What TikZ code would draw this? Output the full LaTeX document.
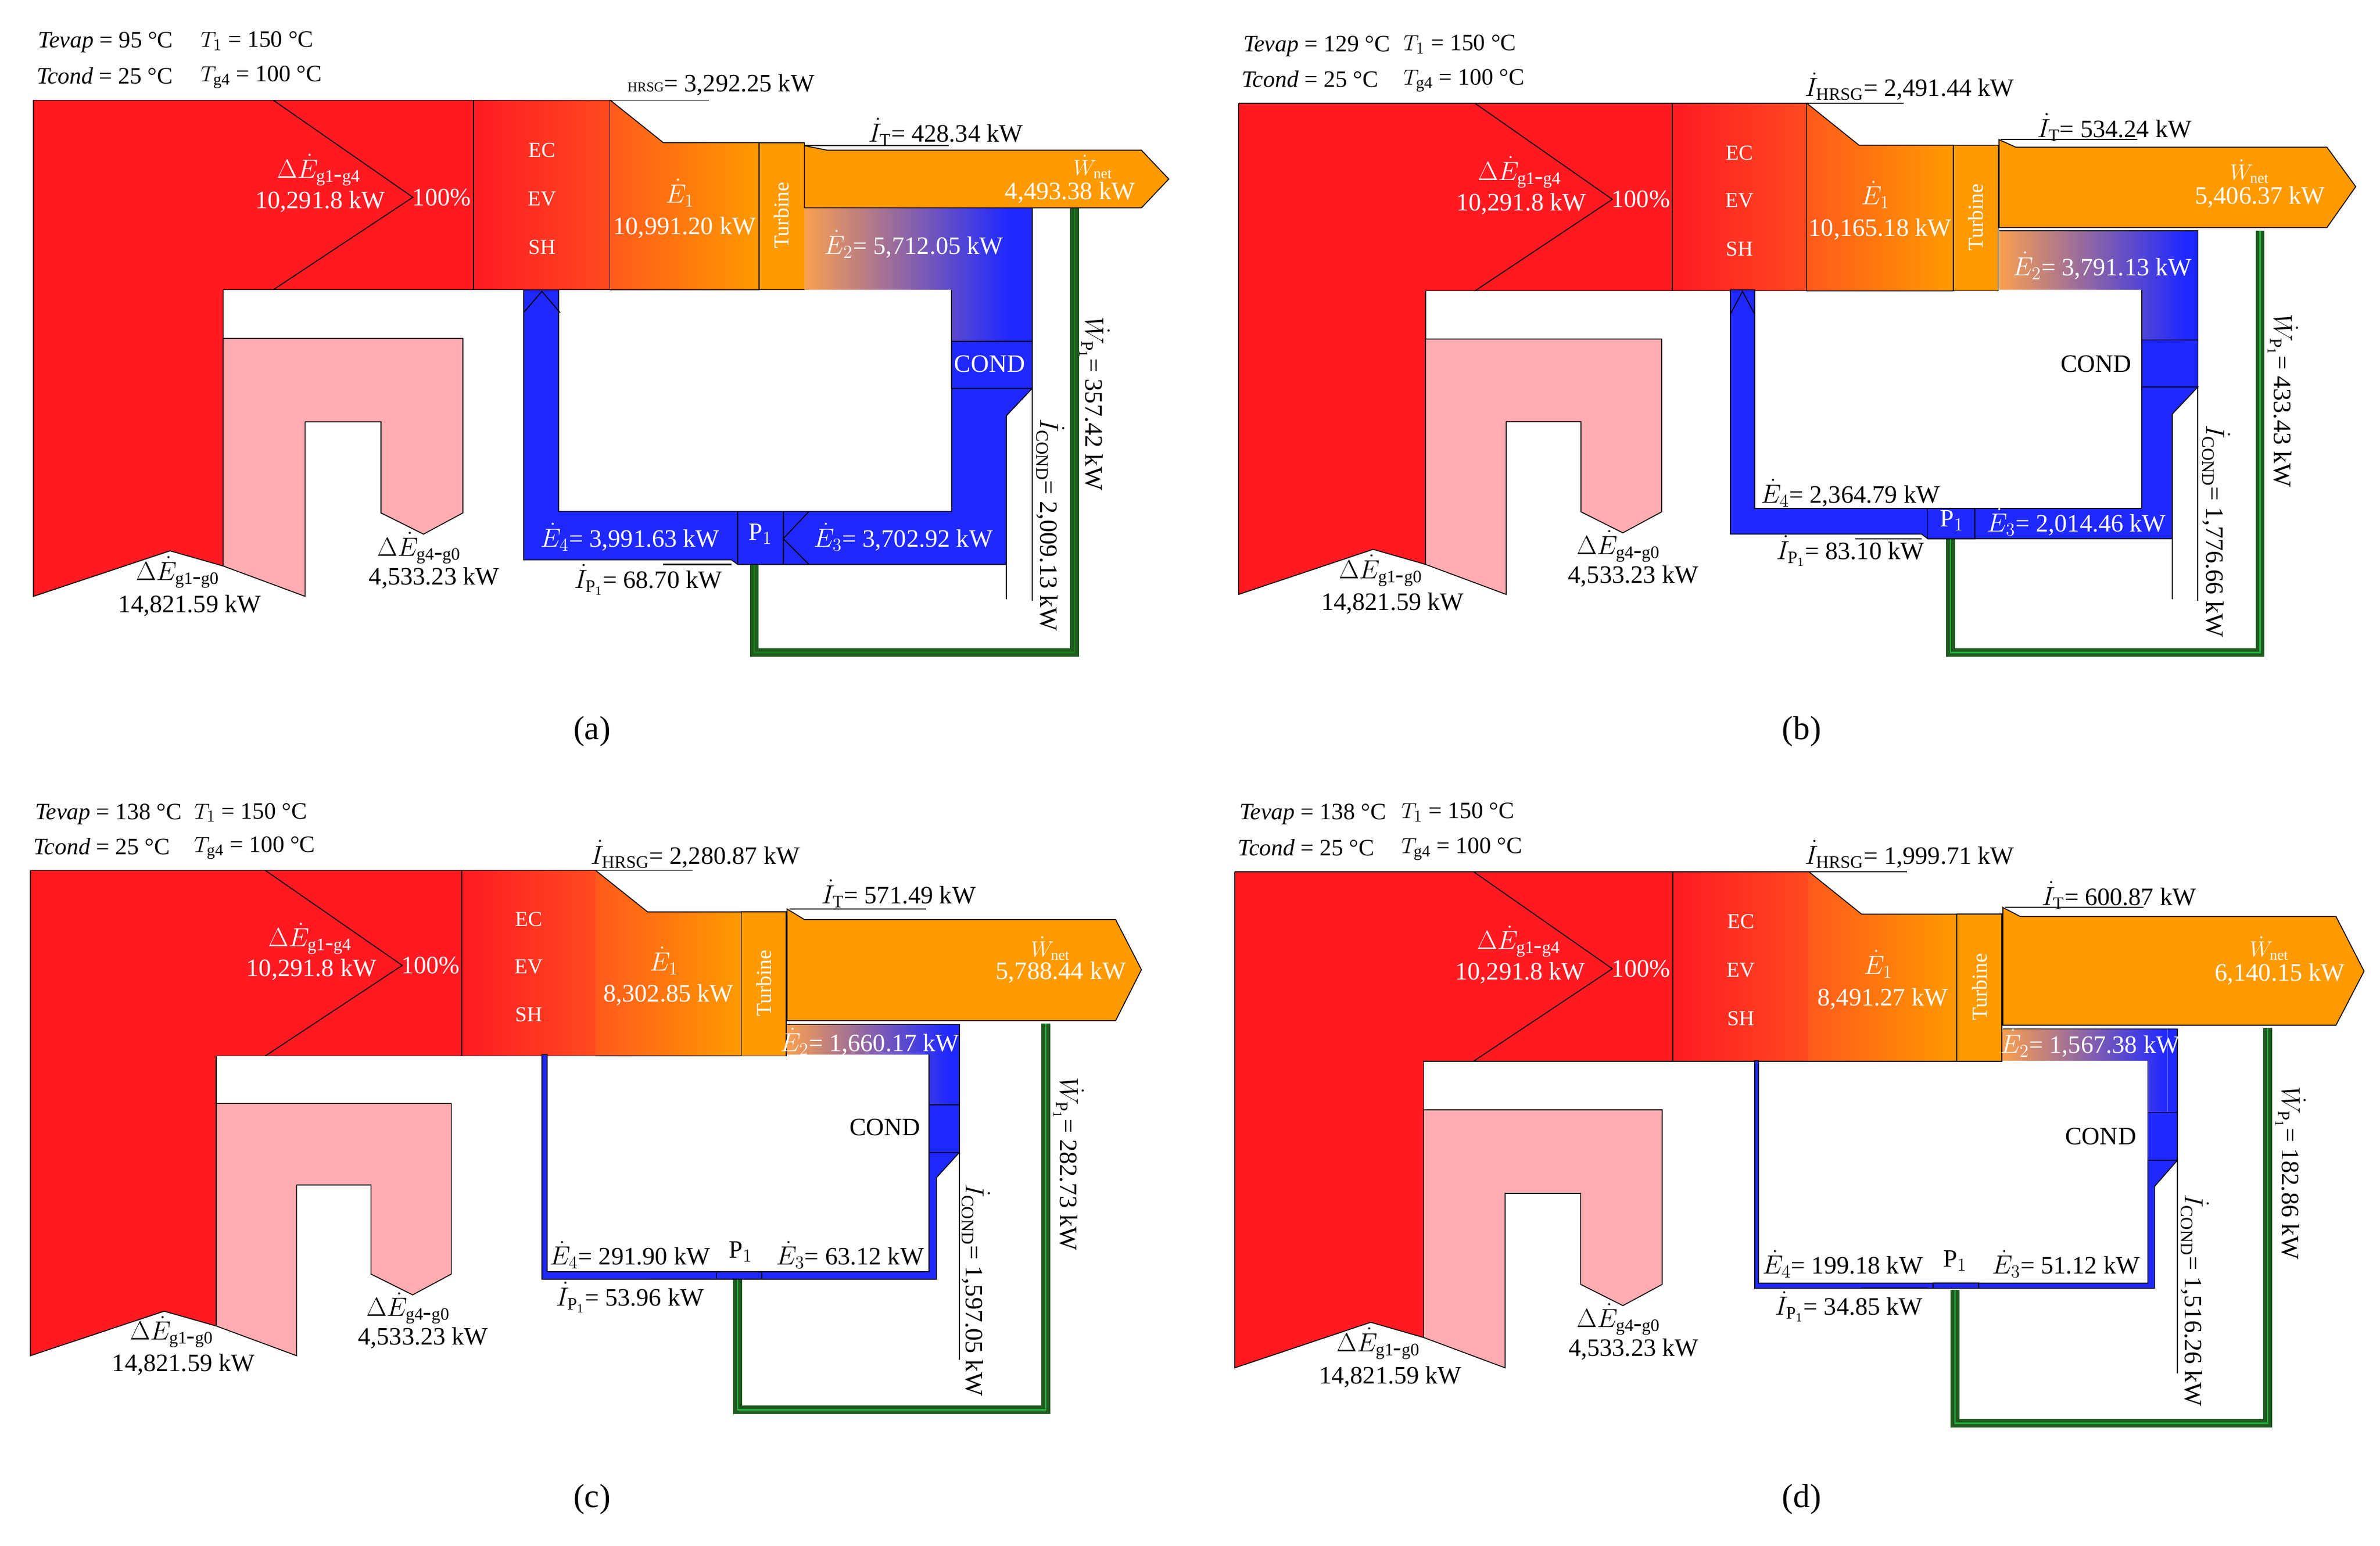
\documentclass[tikz,border=0pt]{standalone}
\usepackage{fontspec}
\setmainfont{Liberation Serif}
\usetikzlibrary{shapes.geometric}
\definecolor{sred}{HTML}{FF1A22}
\definecolor{ecr}{HTML}{FF4A20}
\definecolor{e1l}{HTML}{FF5A1C}
\definecolor{org}{HTML}{FF9A00}
\definecolor{bl}{HTML}{1E28FF}
\definecolor{pnk}{HTML}{FFADB1}
\definecolor{e2l}{HTML}{F9A050}
\definecolor{gdark}{HTML}{1F5A1F}
\definecolor{gbright}{HTML}{22B040}
\tikzset{
 v/.style={font=\fontsize{16.5}{18}\selectfont,inner sep=0pt},
 w/.style={v,text=white},
 sm/.style={font=\fontsize{14}{16}\selectfont,inner sep=0pt},
 tt/.style={font=\fontsize{15.5}{17}\selectfont,inner sep=0pt},
 captxt/.style={font=\fontsize{22}{24}\selectfont,inner sep=0pt},
 ol/.style={draw=black,line width=0.6pt},
 gl/.style={draw=gdark,line width=2.4pt,double=#1,double distance=0.9pt},
 ln/.style={draw=black,line width=0.8pt},
}
\newcommand{\mypanel}[7]{%
\begin{scope}[shift={(#2,#3)},xscale=#4,yscale=#5]
 \fill[sred] (0,0)--(290,0)--(290,125)--(125,125)--(125,307)--(90,297)--(0,327)--cycle;
 \draw[ol] (0,0)--(0,327)--(90,297)--(125,307);
 \draw[ol] (125,307)--(125,125)--(290,125);
 \draw[ol] (158,0)--(250,64)--(158,125);
 \shade[left color=sred,right color=ecr] (290,0) rectangle (380,125);
 \draw[ol] (290,0) rectangle (380,125);
 \shade[left color=e1l,right color=org] (380,0)--(415,28)--(478,28)--(478,125)--(380,125)--cycle;
 \draw[ol] (380,0)--(415,28)--(478,28)--(478,125)--(380,125);
 \draw[ol,fill=org] (478,28) rectangle (508,125);
 \draw[ol,fill=pnk] (125,157)--(283,157)--(283,272)--(257,286)--(229,272)--(229,212)--(179,212)--(179,327)--(125,307)--cycle;
 \draw[ol] (0,0)--(445,0);
 \node[w] (#1dg14) at (188,46) {$\Delta\dot{E}_{\mathrm{g1\mbox{-}g4}}$};
 \node[w] (#1dg14v) at (189,67) {10,291.8 kW};
 \node[w] (#1pc) at (269,64) {100\%};
 \node[w,sm] (#1ec) at (335,33) {EC};
 \node[w,sm] (#1ev) at (335,65) {EV};
 \node[w,sm] (#1sh) at (335,97) {SH};
 \node[w] (#1e1) at (426,61) {$\dot{E}_1$};
 \node[w] (#1e1v) at (429,84) {#7};
 \node[w,sm,rotate=90] (#1tu) at (493,76) {Turbine};
 \node[v] (#1dg10) at (95,311) {$\Delta\dot{E}_{\mathrm{g1\mbox{-}g0}}$};
 \node[v] (#1dg10v) at (103,333) {14,821.59 kW};
 \node[v] (#1dg40) at (254,295) {$\Delta\dot{E}_{\mathrm{g4\mbox{-}g0}}$};
 \node[v] (#1dg40v) at (264,315) {4,533.23 kW};
 \node[tt,anchor=west] (#1tev) at (3,-38) {\textit{Tevap} = #6 °C};
 \node[tt,anchor=west] (#1t1) at (110,-39) {$T_1$ = 150 °C};
 \node[tt,anchor=west] (#1tco) at (2,-16) {\textit{Tcond} = 25 °C};
 \node[tt,anchor=west] (#1tg4) at (110,-15) {$T_{\mathrm{g4}}$ = 100 °C};
\end{scope}}
\begin{document}
\begin{tikzpicture}[x=1pt,y=-1pt]
\useasboundingbox[fill=white] (0,0) rectangle (1568,1018.6);
% ---------------- panel a
\mypanel{a}{22}{66}{1}{1}{95}{10,991.20 kW}
\draw[gl=gdark!80!green] (497,372)--(497,430)--(708,430)--(708,137);
\draw[ol,fill=org] (530,96)--(545,99)--(752,99)--(770,118)--(752,137)--(530,137)--cycle;
\shade[left color=e2l,right color=bl] (530,137)--(665,137)--(665,225)--(627,225)--(627,191)--(530,191)--cycle;
\fill[bl] (665,137) rectangle (680,225);
\draw[ol] (530,137)--(680,137)--(680,225)--(627,225)--(627,191);
\draw[ol,fill=bl] (627,225) rectangle (680,256);
\draw[ol,fill=bl] (345,191)--(368,191)--(368,337)--(627,337)--(627,256)--(680,256)--(663,274)--(663,372)--(486,372)--(482,369)--(345,369)--cycle;
\draw[ol] (486,337) rectangle (516,372);
\draw[ol] (533,337)--(516,355)--(533,372);
\draw[ol] (345,206)--(357,192)--(369,206);
\draw[ln] (680,256)--(680,396);
\draw[ln] (663,274)--(663,395);
\draw[ln] (437,372)--(482,372);
\draw[ln] (530,96)--(625,96);
\node[w] (aE2) at (602,161) {$\dot{E}_2$= 5,712.05 kW};
\node[w] (aCO) at (652,240) {COND};
\node[w] (aE4) at (415,354) {$\dot{E}_4$= 3,991.63 kW};
\node[w] (aP1) at (501,352) {P$_1$};
\node[w] (aE3) at (595,354) {$\dot{E}_3$= 3,702.92 kW};
\node[v] (aIP) at (427,382) {$\dot{I}_{\mathrm{P_1}}$= 68.70 kW};
\node[v,rotate=-90] (aWP) at (721,266) {$\dot{W}_{\mathrm{P_1}}$= 357.42 kW};
\node[v,rotate=-90] (aIC) at (692,346) {$\dot{I}_{\mathrm{COND}}$= 2,009.13 kW};
\node[w,sm] (aWn) at (720,110) {$\dot{W}_{\mathrm{net}}$};
\node[w] (aWv) at (705,127) {4,493.38 kW};
\node[v] (aIT) at (623,87) {$\dot{I}_{\mathrm{T}}$= 428.34 kW};
\node[v] (aIH) at (475,56) {{\fontsize{9}{10}\selectfont HRSG}= 3,292.25 kW};
\node[captxt] (capa) at (390,482) {(a)};
% ---------------- panel b
\mypanel{b}{816}{68}{0.985}{0.99}{129}{10,165.18 kW}
\draw[gl=gbright] (1285,355)--(1285,430)--(1489,430)--(1489,152);
\draw[ol,fill=org] (1317,92)--(1328,97)--(1533,97)--(1552,123)--(1533,150)--(1317,150)--cycle;
\shade[left color=e2l,right color=bl] (1317,152)--(1440,152)--(1440,224)--(1411,224)--(1411,191)--(1317,191)--cycle;
\fill[bl] (1440,152) rectangle (1448,224);
\draw[ol] (1317,152)--(1448,152)--(1448,224)--(1411,224)--(1411,191);
\draw[ol,fill=bl] (1411,224) rectangle (1448,255);
\draw[ol,fill=bl] (1140,191)--(1156,191)--(1156,335)--(1411,335)--(1411,255)--(1448,255)--(1431,273)--(1431,355)--(1270,355)--(1266,352)--(1140,352)--cycle;
\draw[ol] (1270,335) rectangle (1301,355);
\draw[ol] (1140,207)--(1148,192)--(1156,207);
\draw[ln] (1448,255)--(1448,396);
\draw[ln] (1431,273)--(1431,395);
\draw[ln] (1222,355)--(1266,355);
\draw[ln] (1318,92)--(1408,92);
\node[w] (bE2) at (1385,175) {$\dot{E}_2$= 3,791.13 kW};
\node[v] (bCO) at (1381,240) {COND};
\node[v] (bE4) at (1219,325) {$\dot{E}_4$= 2,364.79 kW};
\node[w] (bP1) at (1286,343) {P$_1$};
\node[w] (bE3) at (1368,344) {$\dot{E}_3$= 2,014.46 kW};
\node[v] (bIP) at (1219,363) {$\dot{I}_{\mathrm{P_1}}$= 83.10 kW};
\node[v,rotate=-90] (bWP) at (1504,264) {$\dot{W}_{\mathrm{P_1}}$= 433.43 kW};
\node[v,rotate=-90] (bIC) at (1460,350) {$\dot{I}_{\mathrm{COND}}$= 1,776.66 kW};
\node[w,sm] (bWn) at (1482,113) {$\dot{W}_{\mathrm{net}}$};
\node[w] (bWv) at (1489,130) {5,406.37 kW};
\node[v] (bIT) at (1393,84) {$\dot{I}_{\mathrm{T}}$= 534.24 kW};
\node[v] (bIH) at (1258,57) {$\dot{I}_{\mathrm{HRSG}}$= 2,491.44 kW};
\node[captxt] (capb) at (1187,482) {(b)};
% ---------------- panel c
\mypanel{c}{20}{573.6}{0.98}{0.978}{138}{8,302.85 kW}
\draw[gl=gbright] (486,843)--(486,929)--(689,929)--(689,674.5);
\draw[ol,fill=org] (518.5,599)--(530,606)--(735,606)--(752,639)--(735,672.6)--(518.5,672.6)--cycle;
\shade[left color=e2l,right color=bl] (518.5,675)--(625,675)--(625,728)--(612,728)--(612,695)--(518.5,695)--cycle;
\fill[bl] (625,675) rectangle (632,728);
\draw[ol] (518.5,675)--(632,675)--(632,728)--(612,728)--(612,695);
\draw[ol,fill=bl] (612,728) rectangle (632,759.5);
\draw[ol,fill=bl] (357,695)--(360.5,695)--(360.5,838)--(612,838)--(612,759.5)--(632,759.5)--(617,776)--(617,843)--(357,843)--cycle;
\draw[ol] (472,838) rectangle (502,843);
\draw[ln] (632,759.5)--(632,896);
\draw[ln] (427,843)--(468,843);
\draw[ln] (520,599)--(610,599);
\node[w] (cE2) at (573,686.5) {$\dot{E}_2$= 1,660.17 kW};
\node[v] (cCO) at (583,743) {COND};
\node[v] (cE4) at (415,827) {$\dot{E}_4$= 291.90 kW};
\node[v] (cP1) at (488,825) {P$_1$};
\node[v] (cE3) at (560,827) {$\dot{E}_3$= 63.12 kW};
\node[v] (cIP) at (415,855) {$\dot{I}_{\mathrm{P_1}}$= 53.96 kW};
\node[v,rotate=-90] (cWP) at (704,767) {$\dot{W}_{\mathrm{P_1}}$= 282.73 kW};
\node[v,rotate=-90] (cIC) at (643,850) {$\dot{I}_{\mathrm{COND}}$= 1,597.05 kW};
\node[w,sm] (cWn) at (692,625) {$\dot{W}_{\mathrm{net}}$};
\node[w] (cWv) at (699,641) {5,788.44 kW};
\node[v] (cIT) at (592,589) {$\dot{I}_{\mathrm{T}}$= 571.49 kW};
\node[v] (cIH) at (458,563) {$\dot{I}_{\mathrm{HRSG}}$= 2,280.87 kW};
\node[captxt] (capc) at (390,988) {(c)};
% ---------------- panel d
\mypanel{d}{813.5}{574.4}{0.995}{1}{138}{8,491.27 kW}
\draw[gl=gbright] (1288,850)--(1288,938)--(1494,938)--(1494,677.4);
\draw[ol,fill=org] (1319.5,598)--(1331,604)--(1539,604)--(1557.5,640)--(1539,675.6)--(1319.5,675.6)--cycle;
\shade[left color=e2l,right color=bl] (1319.5,678)--(1428,678)--(1428,733)--(1415,733)--(1415,699)--(1319.5,699)--cycle;
\fill[bl] (1428,678) rectangle (1434.5,733);
\draw[ol] (1319.5,678)--(1434.5,678)--(1434.5,733)--(1415,733)--(1415,699);
\draw[ol,fill=bl] (1415,733) rectangle (1434.5,764.6);
\draw[ol,fill=bl] (1156,699)--(1158.5,699)--(1158.5,845.6)--(1415,845.6)--(1415,764.6)--(1434.5,764.6)--(1419.5,781.8)--(1419.5,849)--(1156,849)--cycle;
\draw[ol] (1273.5,845.6) rectangle (1303.5,849);
\draw[ln] (1434.5,764.6)--(1434.5,905);
\draw[ln] (1226,849)--(1270,849);
\draw[ln] (1321,598)--(1412,598);
\node[w] (dE2) at (1377,687.4) {$\dot{E}_2$= 1,567.38 kW};
\node[v] (dCO) at (1384,749) {COND};
\node[v] (dE4) at (1214,833) {$\dot{E}_4$= 199.18 kW};
\node[v] (dP1) at (1288,831) {P$_1$};
\node[v] (dE3) at (1361,833) {$\dot{E}_3$= 51.12 kW};
\node[v] (dIP) at (1218,861) {$\dot{I}_{\mathrm{P_1}}$= 34.85 kW};
\node[v,rotate=-90] (dWP) at (1509,773) {$\dot{W}_{\mathrm{P_1}}$= 182.86 kW};
\node[v,rotate=-90] (dIC) at (1446,857) {$\dot{I}_{\mathrm{COND}}$= 1,516.26 kW};
\node[w,sm] (dWn) at (1495,625) {$\dot{W}_{\mathrm{net}}$};
\node[w] (dWv) at (1502,642) {6,140.15 kW};
\node[v] (dIT) at (1396,590) {$\dot{I}_{\mathrm{T}}$= 600.87 kW};
\node[v] (dIH) at (1258,563) {$\dot{I}_{\mathrm{HRSG}}$= 1,999.71 kW};
\node[captxt] (capd) at (1187,988) {(d)};
\end{tikzpicture}
\end{document}
